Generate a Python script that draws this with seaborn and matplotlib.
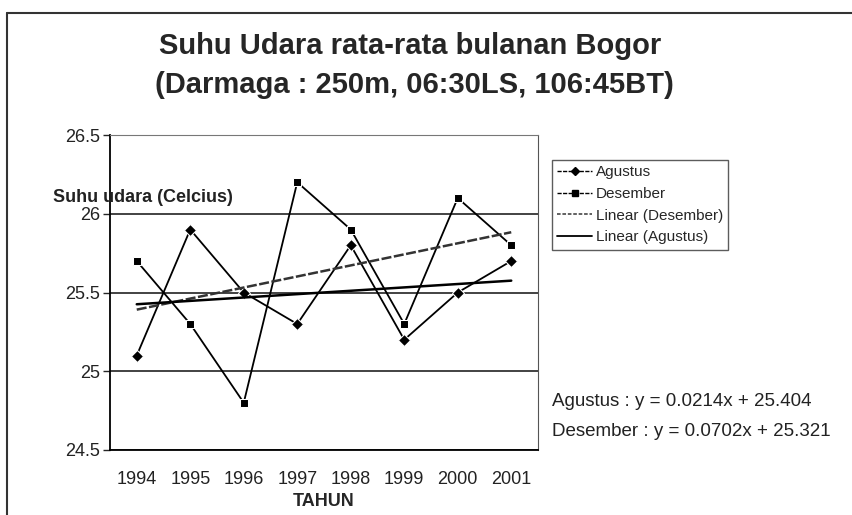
import matplotlib
matplotlib.use("Agg")
import matplotlib.pyplot as plt
import seaborn as sns
import numpy as np
import pandas as pd
from matplotlib.lines import Line2D

# --- data ---
years = [1994, 1995, 1996, 1997, 1998, 1999, 2000, 2001]
agustus = [25.1, 25.9, 25.5, 25.3, 25.8, 25.2, 25.5, 25.7]
desember = [25.7, 25.3, 24.8, 26.2, 25.9, 25.3, 26.1, 25.8]

# trend equations printed on the chart (x = 1..8)
trend_agustus = (0.0214, 25.404)
trend_desember = (0.0702, 25.321)

sns.set_style("white")
plt.rcParams['font.family'] = ['Liberation Sans', 'DejaVu Sans']

fig = plt.figure(figsize=(8.53, 5.15), dpi=100)
ax = fig.add_axes([110 / 853, 1 - 450 / 515, 428 / 853, 315 / 515])

df = pd.DataFrame({
    'tahun': years * 2,
    'suhu': agustus + desember,
    'bulan': ['Agustus'] * len(years) + ['Desember'] * len(years),
})

sns.lineplot(data=df, x='tahun', y='suhu', hue='bulan', style='bulan',
             markers={'Agustus': 'D', 'Desember': 's'}, dashes=False,
             palette={'Agustus': 'black', 'Desember': 'black'},
             markersize=6, linewidth=1.3, legend=False, ax=ax)

# trend lines
idx = np.arange(1, len(years) + 1)
sns.lineplot(x=years, y=trend_desember[0] * idx + trend_desember[1],
             color='#333333', linewidth=1.8, linestyle=(0, (4, 1)), ax=ax)
sns.lineplot(x=years, y=trend_agustus[0] * idx + trend_agustus[1],
             color='black', linewidth=1.8, ax=ax)

ax.set_xlim(1993.5, 2001.5)
ax.set_ylim(24.5, 26.5)
ax.set_yticks([24.5, 25, 25.5, 26, 26.5])
ax.set_yticklabels(['24.5', '25', '25.5', '26', '26.5'])
ax.set_xticks(years)
ax.set_xticks(np.arange(1993.5, 2002, 1), minor=True)
ax.tick_params(axis='x', which='major', length=0, pad=15, labelsize=13)
ax.tick_params(axis='x', which='minor', length=5, direction='inout', width=1)
ax.tick_params(axis='y', length=5, direction='out', width=1, labelsize=13,
               left=True, pad=2)
for t in ax.get_xticklabels() + ax.get_yticklabels():
    t.set_color('#222222')

ax.yaxis.grid(True, color='#222222', linewidth=1.2)
ax.set_axisbelow(True)
for side in ['left', 'bottom']:
    ax.spines[side].set_color('black')
    ax.spines[side].set_linewidth(1.3)
ax.spines['top'].set_color('#777777')
ax.spines['right'].set_color('#555555')

ax.set_xlabel('TAHUN', fontsize=13, fontweight='bold', labelpad=4)
ax.set_ylabel('')
fig.text(53 / 853, 1 - 198 / 515, 'Suhu udara (Celcius)', fontsize=13,
         fontweight='bold', va='center', ha='left', color='#222222')

fig.text(410 / 853, 1 - 46 / 515, 'Suhu Udara rata-rata bulanan Bogor',
         fontsize=21, fontweight='bold', ha='center', va='center')
fig.text(414 / 853, 1 - 85 / 515, '(Darmaga : 250m, 06:30LS, 106:45BT)',
         fontsize=21, fontweight='bold', ha='center', va='center')

handles = [
    Line2D([], [], color='black', marker='D', markersize=4, linewidth=1, linestyle=(0, (3, 1))),
    Line2D([], [], color='black', marker='s', markersize=4, linewidth=1, linestyle=(0, (3, 1))),
    Line2D([], [], color='#555555', linewidth=1.3, linestyle=(0, (2, 1))),
    Line2D([], [], color='black', linewidth=1.3),
]
labels = ['Agustus', 'Desember', 'Linear (Desember)', 'Linear (Agustus)']
leg = fig.legend(handles, labels, loc='upper left',
                 bbox_to_anchor=(552 / 853, 1 - 160 / 515), fontsize=11,
                 frameon=True, fancybox=False, borderpad=0.35, labelspacing=0.5,
                 handlelength=2.3, handletextpad=0.2, borderaxespad=0)
leg.get_frame().set_edgecolor('#333333')
leg.get_frame().set_linewidth(1)

fig.text(552 / 853, 1 - 401 / 515, 'Agustus : y = 0.0214x + 25.404',
         fontsize=13.5, va='center', ha='left', color='#222222')
fig.text(552 / 853, 1 - 432 / 515, 'Desember : y = 0.0702x + 25.321',
         fontsize=13.5, va='center', ha='left', color='#222222')

# scanned frame: top and left border
fig.add_artist(Line2D([7 / 853, 1], [1 - 13 / 515] * 2, color='#333333', linewidth=1.5))
fig.add_artist(Line2D([7 / 853] * 2, [0, 1 - 13 / 515], color='#333333', linewidth=1.5))

fig.savefig('out.png', dpi=100)
